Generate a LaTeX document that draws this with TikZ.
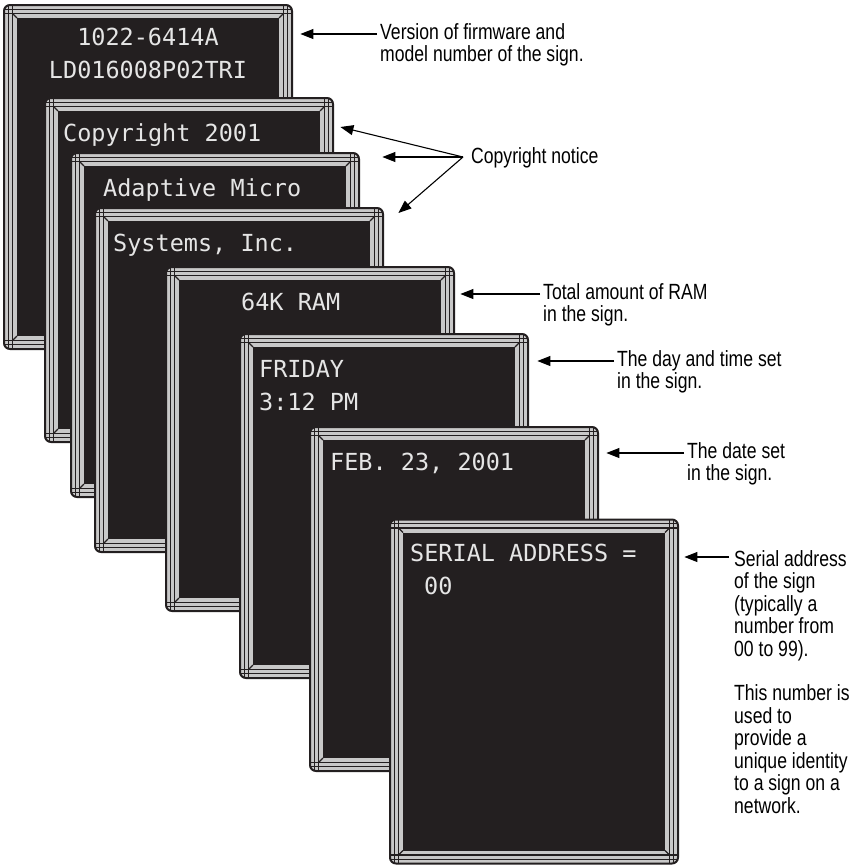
\documentclass[tikz,border=0pt]{standalone}
\usepackage{fontspec}
\setmainfont{Liberation Sans}[FakeStretch=0.8]
\newfontfamily\signfont{DejaVu Sans Mono}
\usetikzlibrary{arrows.meta,calc}

\definecolor{sign dark}{RGB}{35,31,32}
\definecolor{band gray}{RGB}{200,200,200}
\colorlet{sign text}{black!10}
\tikzset{signbox/.style={rectangle, inner sep=0pt, minimum width=288pt,
                         minimum height=344pt, anchor=north west},
    rim/.style={draw=sign dark, line width=2pt, rounded corners=6pt},
    rimline/.style={draw=sign dark, line width=1.3pt},
    led/.style={anchor=base west, inner sep=0pt, text=sign text,
                font=\signfont\fontsize{23.5}{33}\selectfont},
    note/.style={anchor=north west, inner sep=0pt, align=left,
                 font=\fontsize{22}{22.5}\selectfont},
    pointer/.style={-{Triangle[length=13pt,width=10pt]}, line width=1.1pt}}

% one sign: name, left, top
\def\signframe#1#2#3{%
  \begin{scope}[shift={(#2,#3)}]
    \node[signbox] (#1) at (0,0) {};
    \begin{scope}
      \clip[rounded corners=6pt] (0,0) rectangle (288,344);
      \fill[fill=band gray] (0,0) rectangle (288,344);
      \draw[rimline] (0,4.2) -- (288,4.2) (0,8.4) -- (288,8.4)
                     (0,335.6) -- (288,335.6) (0,339.8) -- (288,339.8)
                     (4.2,0) -- (4.2,344) (8.4,0) -- (8.4,344)
                     (279.6,0) -- (279.6,344) (283.8,0) -- (283.8,344);
    \end{scope}
    \draw[rim] (0,0) rectangle (288,344);
    \fill[fill=sign dark] (13,13) rectangle (275,331);
    \draw[rimline] (8.4,8.4) -- (13,13) (279.6,8.4) -- (275,13)
                   (8.4,335.6) -- (13,331) (279.6,335.6) -- (275,331);
  \end{scope}}

\begin{document}
\begin{tikzpicture}[x=1pt, y=-1pt]
  \useasboundingbox (0,0) rectangle (851,865);

  \signframe{sign1}{4}{5}
  \node[led, anchor=base] (version) at (148,45) {1022-6414A};
  \node[led, anchor=base] (model) at (148,78) {LD016008P02TRI};
  \signframe{sign2}{45}{98}
  \node[led] (copy1) at (63,141) {Copyright 2001};
  \signframe{sign3}{71}{153}
  \node[led] (copy2) at (103,196) {Adaptive Micro};
  \signframe{sign4}{95}{208}
  \node[led] (copy3) at (113,251) {Systems, Inc.};
  \signframe{sign5}{166}{267}
  \node[led] (ramtext) at (241,310) {64K RAM};
  \signframe{sign6}{240}{334}
  \node[led] (daytext) at (259,377) {FRIDAY};
  \node[led] (timetext) at (259,410) {3:12 PM};
  \signframe{sign7}{310}{427}
  \node[led] (datetext) at (330,470) {FEB. 23, 2001};
  \signframe{sign8}{390}{519.5}
  \node[led] (serialtext) at (410,561) {SERIAL ADDRESS =};
  \node[led] (addrtext) at (424,594) {00};

  % callouts
  \node[note] (firmware) at (380,23) {Version of firmware and\\model number of the sign.};
  \node[note] (copyright) at (471,147) {Copyright notice};
  \node[note] (ram) at (543,283) {Total amount of RAM\\in the sign.};
  \node[note] (daytime) at (617,350) {The day and time set\\in the sign.};
  \node[note] (date) at (687,442) {The date set\\in the sign.};
  \node[note] (serial) at (734,550) {Serial address\\of the sign\\(typically a\\number from\\00 to 99).\\[22pt]
    This number is\\used to\\provide a\\unique identity\\to a sign on a\\network.};

  \coordinate (from1) at ([shift={(-3,11)}]firmware.north west);
  \coordinate (to1) at ($(from1 -| sign1.east)+(8,0)$);
  \coordinate (from2) at ([shift={(-8,10)}]copyright.north west);
  \coordinate (to2a) at ($(sign2.north east)+(7,29)$);
  \coordinate (to2b) at ($(from2 -| sign3.east)+(23,0)$);
  \coordinate (to2c) at ($(sign4.north east)+(15,5)$);
  \coordinate (from3) at ([shift={(-3,11)}]ram.north west);
  \coordinate (to3) at ($(from3 -| sign5.east)+(6,0)$);
  \coordinate (from4) at ([shift={(-3,11)}]daytime.north west);
  \coordinate (to4) at ($(from4 -| sign6.east)+(9,0)$);
  \coordinate (from5) at ([shift={(-3,11)}]date.north west);
  \coordinate (to5) at ($(from5 -| sign7.east)+(8,0)$);
  \coordinate (from6) at ([shift={(-5,7)}]serial.north west);
  \coordinate (to6) at ($(from6 -| sign8.east)+(6,0)$);

  \draw[pointer] (from1) -- (to1);
  \draw[pointer] (from2) -- (to2a);
  \draw[pointer] (from2) -- (to2b);
  \draw[pointer] (from2) -- (to2c);
  \draw[pointer] (from3) -- (to3);
  \draw[pointer] (from4) -- (to4);
  \draw[pointer] (from5) -- (to5);
  \draw[pointer] (from6) -- (to6);
\end{tikzpicture}
\end{document}
